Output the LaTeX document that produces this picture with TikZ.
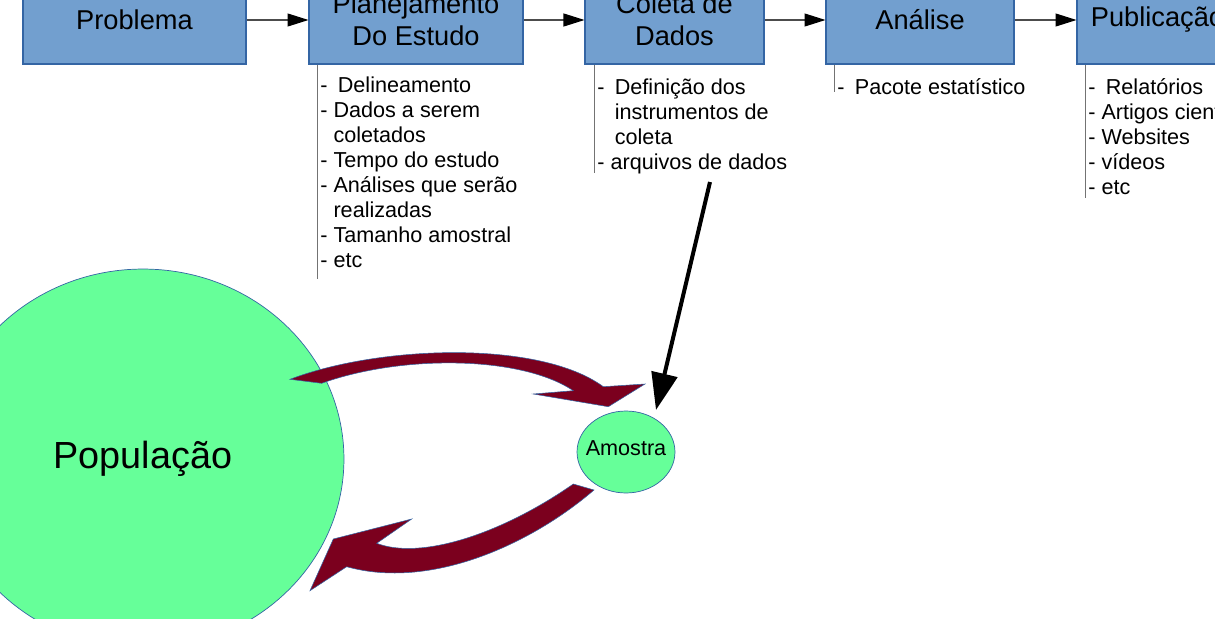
\documentclass[tikz,border=0pt]{standalone}
\usepackage{fontspec}
\setmainfont{Liberation Sans}
\usetikzlibrary{arrows.meta,shapes.geometric,positioning}
\definecolor{boxblue}{HTML}{729FCF}
\definecolor{lineblue}{HTML}{3465A4}
\definecolor{popgreen}{HTML}{66FF99}
\definecolor{wine}{RGB}{123,0,30}

\begin{document}
\begin{tikzpicture}[
            x=0.02cm, y=-0.02cm,
            stage/.style={rectangle, draw=lineblue, line width=0.6pt, fill=boxblue, minimum height=1.76cm, inner sep=0pt, align=center, font=\fontsize{15.5}{18.2}\selectfont},
            notes/.style={anchor=north west, inner sep=0pt, align=left, font=\fontsize{12.3}{14.23}\selectfont},
            flow/.style={draw=black!70, line width=0.6pt, -{Triangle[length=0.42cm,width=0.26cm,black]}},
            bracket/.style={draw=black!55, line width=0.6pt},
            blob/.style={ellipse, draw=lineblue, line width=0.4pt, fill=popgreen, inner sep=0pt},
            bigarrow/.style={fill=wine, draw=lineblue, line width=0.3pt},
            datarrow/.style={line width=0.08cm, -{Triangle[length=0.74cm,width=0.52cm]}}
            ]
            \useasboundingbox (0,0) rectangle (1215,619);
            \clip (0,0) rectangle (1215,619);

            % etapas
            \node[stage, minimum width=4.46cm] (problema) at (134.5,20) {Problema};
            \node[stage, minimum width=4.28cm] (plan) at (416,20) {Planejamento\\Do Estudo};
            \node[stage, minimum width=3.58cm] (coleta) at (674.5,20) {Coleta de\\Dados};
            \node[stage, minimum width=3.76cm] (analise) at (920,20) {Análise};
            \node[stage, minimum width=3.22cm] (pub) at (1157.5,20) {Publicação};

            \draw[flow] (problema) -- (plan);
            \draw[flow] (plan) -- (coleta);
            \draw[flow] (coleta) -- (analise);
            \draw[flow] (analise) -- (pub);

            % listas
            \draw[bracket] ([xshift=0.18cm]plan.south west) -- ++(0,214);
            \draw[bracket] ([xshift=0.2cm]coleta.south west) -- ++(0,108);
            \draw[bracket] ([xshift=0.18cm]analise.south west) -- ++(0,27);
            \draw[bracket] ([xshift=0.18cm]pub.south west) -- ++(0,133);

            \node[notes] (planlist) at (320,76.5) {-\hspace{.2em} Delineamento\\
              - Dados a serem\\
              \hphantom{-\ }coletados\\
              - Tempo do estudo\\
              - Análises que serão\\
              \hphantom{-\ }realizadas\\
              - Tamanho amostral\\
              - etc};
            \node[notes] (coletalist) at (597,78.5) {-\hspace{.2em} Definição dos\\
              \hphantom{-\ }\hspace{.2em}instrumentos de\\
              \hphantom{-\ }\hspace{.2em}coleta\\
              - arquivos de dados};
            \node[notes] (analiselist) at (837,78.5) {-\hspace{.2em} Pacote estatístico};
            \node[notes] (publist) at (1088,78.5) {-\hspace{.2em} Relatórios\\
              - Artigos científicos\\
              - Websites\\
              - vídeos\\
              - etc};

            % populacao e amostra
            \node[blob, minimum width=8.04cm, minimum height=7.6cm, font=\fontsize{21.5}{25}\selectfont] (pop) at (143,459) {\raisebox{0.06cm}{População}};
            \node[blob, minimum width=1.96cm, minimum height=1.64cm, label={[font=\fontsize{12.3}{14}\selectfont, yshift=0.08cm]center:Amostra}] (amostra) at (626,452) {};

            \draw[bigarrow] (290,379.3) .. controls (380,345) and (540,340) .. (603.3,386.7)
              -- (645,384) -- (608.3,406.7) -- (533.3,394) -- (573.3,390.7)
              .. controls (520,355) and (400,355) .. (321.7,383.3) -- cycle;
            \draw[bigarrow] (573.3,484) .. controls (500,535) and (420,560) .. (376.7,543.3)
              -- (411.7,519) -- (333.3,539) -- (310,590.7) -- (346.7,566.7)
              .. controls (430,590) and (530,545) .. (594,490) -- cycle;

            \coordinate (dataout) at (710,182);
            \coordinate (datain) at ([shift={(30,-42)}]amostra.center);
            \draw[datarrow] (dataout) -- (datain);
        \end{tikzpicture}
\end{document}
